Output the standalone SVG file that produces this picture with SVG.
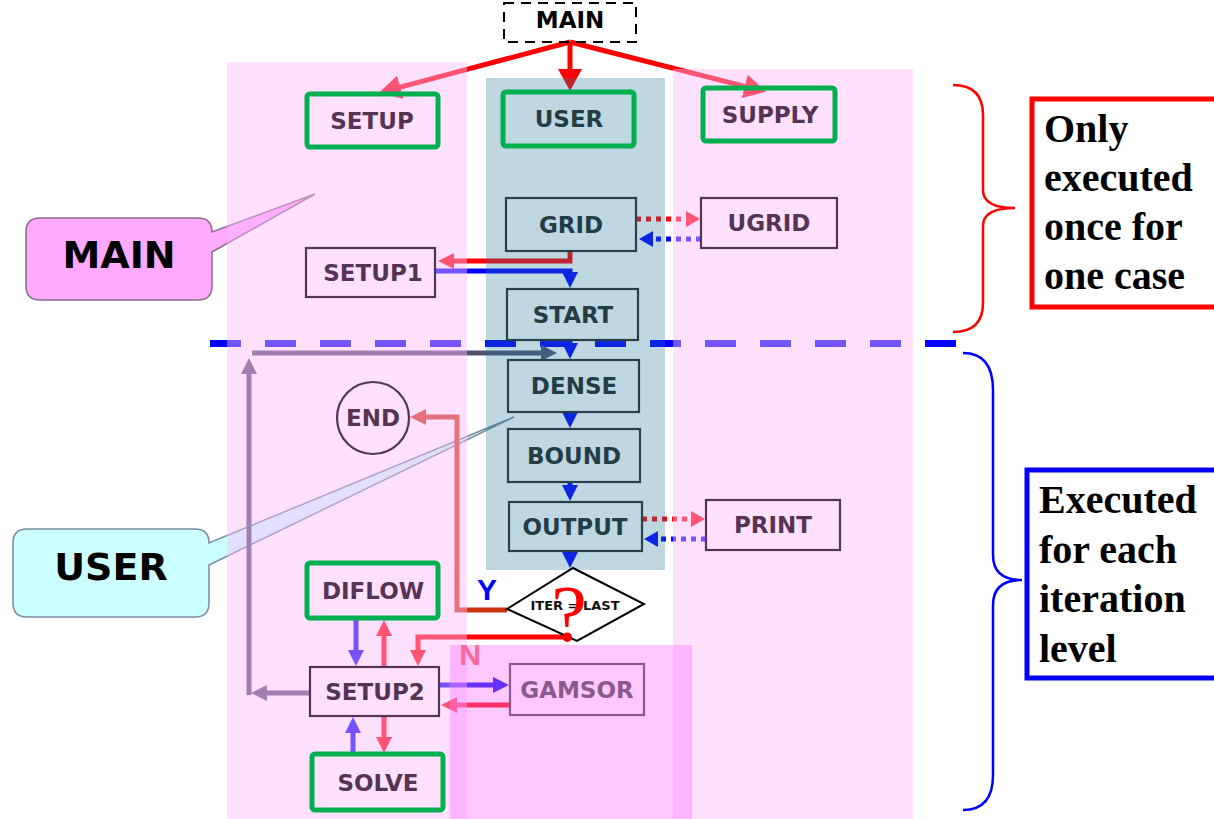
<svg xmlns="http://www.w3.org/2000/svg" width="1214" height="819" viewBox="0 0 1214 819">
<style>
.lbl{font-family:"DejaVu Sans",Verdana,sans-serif;font-weight:bold;font-size:23px;text-anchor:middle}
.pk{fill:#553355}
.tl{fill:#243c46}
.bp{fill:none;stroke:#553355;stroke-width:2.2}
.bt{fill:none;stroke:#2a3f48;stroke-width:2.2}
.gr{fill:none;stroke:#00b050;stroke-width:5}
.c{fill:none;stroke-width:5}
.red{stroke:#ff0000}
.blu{stroke:#0000ff}
.dot{stroke-dasharray:5 5}
.note{font-family:"Liberation Serif","Times New Roman",serif;font-weight:bold;font-size:40px;fill:#000}
</style>
<defs>
<marker id="aR" markerUnits="userSpaceOnUse" markerWidth="16" markerHeight="16" viewBox="0 0 16 16" refX="1" refY="8" orient="auto"><path d="M0,0 L16,8 L0,16 z" fill="#ff0000"/></marker>
<marker id="aB" markerUnits="userSpaceOnUse" markerWidth="16" markerHeight="16" viewBox="0 0 16 16" refX="1" refY="8" orient="auto"><path d="M0,0 L16,8 L0,16 z" fill="#0000ff"/></marker>
<marker id="aRd" markerUnits="userSpaceOnUse" markerWidth="14" markerHeight="16" viewBox="0 0 14 16" refX="1" refY="8" orient="auto"><path d="M0,0 L14,8 L0,16 z" fill="#ff0000"/></marker>
<marker id="aBd" markerUnits="userSpaceOnUse" markerWidth="14" markerHeight="16" viewBox="0 0 14 16" refX="1" refY="8" orient="auto"><path d="M0,0 L14,8 L0,16 z" fill="#0000ff"/></marker>
<marker id="aG" markerUnits="userSpaceOnUse" markerWidth="16" markerHeight="16" viewBox="0 0 16 16" refX="1" refY="8" orient="auto"><path d="M0,0 L16,8 L0,16 z" fill="#505070"/></marker>
<marker id="aO" markerUnits="userSpaceOnUse" markerWidth="16" markerHeight="16" viewBox="0 0 16 16" refX="1" refY="8" orient="auto"><path d="M0,0 L16,8 L0,16 z" fill="#cc3311"/></marker>
<marker id="aL" markerUnits="userSpaceOnUse" markerWidth="22" markerHeight="24" viewBox="0 0 22 24" refX="1" refY="12" orient="auto"><path d="M0,0 L22,12 L0,24 z" fill="#ff0000"/></marker>
</defs>

<rect width="1214" height="819" fill="#ffffff"/>

<g id="callout-main">
<path d="M40,218 H198 Q212,218 212,232 L315,194 L212,252 V286 Q212,300 198,300 H40 Q26,300 26,286 V232 Q26,218 40,218 Z" fill="#ffaaff" stroke="#8a6a8a" stroke-width="1.5"/>
<text x="119" y="268" font-family="DejaVu Sans,Verdana,sans-serif" font-weight="bold" font-size="38" text-anchor="middle" fill="#000">MAIN</text>
</g>
<g id="callout-user">
<path d="M27,529 H195 Q209,529 209,543 L514,417 L209,565 V603 Q209,617 195,617 H27 Q13,617 13,603 V543 Q13,529 27,529 Z" fill="#ccffff" stroke="#7a8aa0" stroke-width="1.5"/>
<text x="111" y="580" font-family="DejaVu Sans,Verdana,sans-serif" font-weight="bold" font-size="38" text-anchor="middle" fill="#000">USER</text>
</g>

<g id="connectors">
<line class="c red" x1="570" y1="42" x2="399.3" y2="87.4" stroke-width="6" marker-end="url(#aL)"/>
<line class="c red" x1="570" y1="42" x2="570" y2="70" stroke-width="6" marker-end="url(#aL)"/>
<line class="c red" x1="570" y1="42" x2="745.7" y2="86.6" stroke-width="6" marker-end="url(#aL)"/>
<path class="c red" d="M570,251 L570,261 L453,261" marker-end="url(#aR)"/>
<path class="c blu" d="M436,271 L570,271 L570,273" marker-end="url(#aB)"/>
<line class="c red dot" x1="636" y1="219" x2="687" y2="219" marker-end="url(#aRd)"/>
<line class="c blu dot" x1="701" y1="239" x2="652" y2="239" marker-end="url(#aBd)"/>
<line class="c blu" x1="570" y1="340" x2="570" y2="344" marker-end="url(#aB)"/>
<line class="c blu" x1="570" y1="412" x2="570" y2="413" marker-end="url(#aB)"/>
<line class="c blu" x1="570" y1="482" x2="570" y2="486" marker-end="url(#aB)"/>
<line class="c blu" x1="570" y1="551" x2="570" y2="553" marker-end="url(#aB)"/>
<line class="c red dot" x1="642" y1="519" x2="692" y2="519" marker-end="url(#aRd)"/>
<line class="c blu dot" x1="706" y1="539" x2="657" y2="539" marker-end="url(#aBd)"/>
<line x1="210" y1="343.5" x2="958" y2="343.5" stroke="#0000ff" stroke-width="7" stroke-dasharray="31 24"/>
<line class="c" stroke="#505070" x1="310" y1="693" x2="266" y2="693" marker-end="url(#aG)"/>
<line class="c" stroke="#505070" x1="249" y1="695" x2="249" y2="373" marker-end="url(#aG)"/>
<line class="c" stroke="#505070" x1="252" y1="353" x2="542" y2="353" marker-end="url(#aG)"/>
<path class="c" stroke="#cc3311" d="M507,610 L457,610 L457,417 L425,417" marker-end="url(#aO)"/>
<path class="c red" d="M569,637 L418,637 L418,651" marker-end="url(#aR)"/>
<line class="c blu" x1="356" y1="618" x2="356" y2="651" marker-end="url(#aB)"/>
<line class="c red" x1="384" y1="666" x2="384" y2="635" marker-end="url(#aR)"/>
<line class="c red" x1="384" y1="716" x2="384" y2="738" marker-end="url(#aR)"/>
<line class="c blu" x1="353" y1="754" x2="353" y2="732" marker-end="url(#aB)"/>
<line class="c blu" x1="439" y1="685" x2="494" y2="685" marker-end="url(#aB)"/>
<line class="c red" x1="510" y1="705" x2="456" y2="705" marker-end="url(#aR)"/>
</g>

<g id="regions">
<rect x="227" y="62" width="240" height="757" fill="#ffbbff" opacity="0.45"/>
<rect x="486" y="78" width="179" height="492" fill="#2a7a9a" opacity="0.3"/>
<rect x="673" y="69" width="240" height="750" fill="#ffbbff" opacity="0.45"/>
<rect x="450" y="645" width="242" height="174" fill="#ff77ff" opacity="0.4"/>
</g>

<g id="main-top">
<rect x="504" y="3" width="132" height="39" fill="none" stroke="#000" stroke-width="2" stroke-dasharray="10 7"/>
<text x="570" y="28" class="lbl" fill="#000">MAIN</text>
</g>
<g id="setup"><rect x="307" y="94" width="131" height="53" rx="3" class="gr"/><text x="372" y="129" class="lbl pk">SETUP</text></g>
<g id="user"><rect x="503" y="92" width="131" height="54" rx="3" class="gr" stroke="#2ba77a"/><text x="569" y="127" class="lbl tl">USER</text></g>
<g id="supply"><rect x="703" y="88" width="132" height="53" rx="3" class="gr"/><text x="770" y="123" class="lbl pk">SUPPLY</text></g>
<g id="grid"><rect x="506" y="198" width="130" height="53" class="bt"/><text x="571" y="233" class="lbl tl">GRID</text></g>
<g id="ugrid"><rect x="701" y="198" width="136" height="50" class="bp"/><text x="769" y="231" class="lbl pk">UGRID</text></g>
<g id="setup1"><rect x="306" y="248" width="129" height="49" class="bp"/><text x="373" y="281" class="lbl pk">SETUP1</text></g>
<g id="start"><rect x="507" y="289" width="131" height="51" class="bt"/><text x="573" y="323" class="lbl tl">START</text></g>
<g id="dense"><rect x="508" y="360" width="131" height="52" class="bt"/><text x="574" y="394" class="lbl tl">DENSE</text></g>
<g id="bound"><rect x="508" y="429" width="132" height="53" class="bt"/><text x="574" y="464" class="lbl tl">BOUND</text></g>
<g id="output"><rect x="509" y="502" width="133" height="49" class="bt"/><text x="575" y="535" class="lbl tl">OUTPUT</text></g>
<g id="print"><rect x="706" y="500" width="134" height="50" class="bp"/><text x="773" y="533" class="lbl pk">PRINT</text></g>
<g id="end"><circle cx="373" cy="418" r="36" class="bp"/><text x="373" y="426" class="lbl pk" font-size="22">END</text></g>
<g id="decision">
<path d="M507,609 L573,568 L644,604 L577,641 Z" fill="#ffffff" stroke="#000" stroke-width="2"/>
<text x="575" y="610" font-family="DejaVu Sans,Verdana,sans-serif" font-weight="bold" font-size="13" text-anchor="middle" fill="#111">ITER = LAST</text>
<text x="569" y="641" font-family="Liberation Serif,Times New Roman,serif" font-size="80" text-anchor="middle" fill="#ff0000">?</text>
</g>
<text x="487" y="600" font-family="Liberation Sans,Arial,sans-serif" font-weight="bold" font-size="30" text-anchor="middle" fill="#0000ff">Y</text>
<text x="470" y="665" font-family="Liberation Sans,Arial,sans-serif" font-weight="bold" font-size="30" text-anchor="middle" fill="#ff6699">N</text>
<g id="diflow"><rect x="307" y="563" width="131" height="55" rx="3" class="gr"/><text x="373" y="599" class="lbl pk">DIFLOW</text></g>
<g id="setup2"><rect x="310" y="667" width="129" height="49" class="bp"/><text x="375" y="700" class="lbl pk">SETUP2</text></g>
<g id="gamsor"><rect x="510" y="664" width="134" height="51" fill="none" stroke="#8a5a8a" stroke-width="2.2"/><text x="577" y="698" class="lbl" fill="#8a5a8a">GAMSOR</text></g>
<g id="solve"><rect x="312" y="754" width="131" height="56" rx="3" class="gr"/><text x="378" y="791" class="lbl pk">SOLVE</text></g>

<g id="note-once">
<path d="M953,85 Q983,85 983,115 L983,190 Q983,208 1015,208 Q983,208 983,226 L983,303 Q983,332 953,332" fill="none" stroke="#ff0000" stroke-width="2.5"/>
<rect x="1032" y="99" width="190" height="208" fill="none" stroke="#ff0000" stroke-width="5"/>
<text class="note"><tspan x="1044" y="142">Only</tspan><tspan x="1044" y="191">executed</tspan><tspan x="1044" y="240">once for</tspan><tspan x="1044" y="289">one case</tspan></text>
</g>
<g id="note-iter">
<path d="M963,353 Q993,353 993,390 L993,555 Q993,580 1022,580 Q993,580 993,605 L993,775 Q993,810 963,810" fill="none" stroke="#0000ff" stroke-width="2.5"/>
<rect x="1027" y="470" width="195" height="208" fill="none" stroke="#0000ff" stroke-width="5"/>
<text class="note"><tspan x="1039" y="513">Executed</tspan><tspan x="1039" y="563">for each</tspan><tspan x="1039" y="612">iteration</tspan><tspan x="1039" y="662">level</tspan></text>
</g>
</svg>
